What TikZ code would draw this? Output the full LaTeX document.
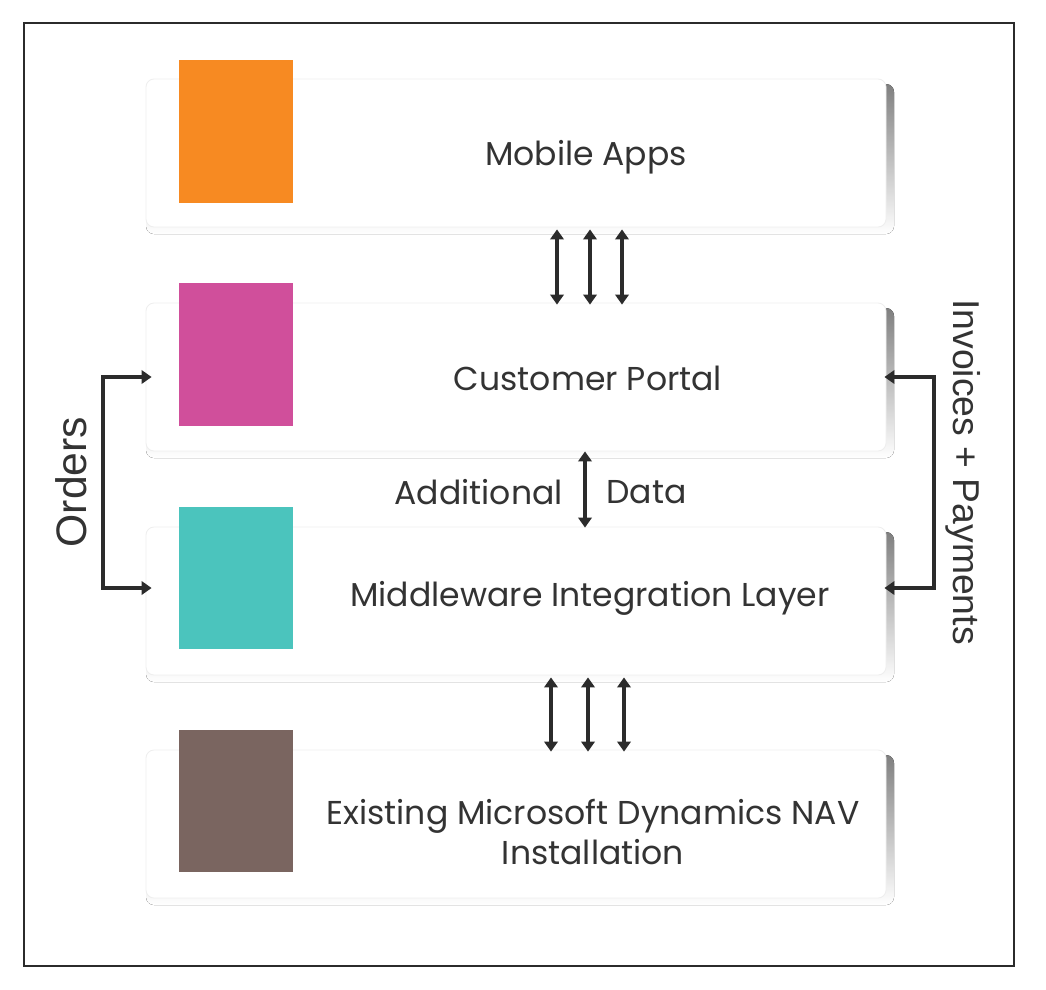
\documentclass[tikz,border=0pt]{standalone}
\usepackage{fontspec}
\setmainfont{Poppins}
\newfontfamily\arialf{Liberation Sans}
\usetikzlibrary{arrows.meta,calc}
\definecolor{ink}{HTML}{2B2B2B}
\definecolor{txt}{HTML}{333333}
\definecolor{cOrange}{HTML}{F78A22}
\definecolor{cPink}{HTML}{D04F9B}
\definecolor{cTeal}{HTML}{4BC4BD}
\definecolor{cBrown}{HTML}{7A6560}
\definecolor{shade}{HTML}{BDBDBD}
\definecolor{edge}{HTML}{EEEEEE}
\tikzset{
  boxnode/.style={rectangle, rounded corners=6pt, fill=white, draw=edge, line width=0.6pt,
    minimum width=555pt, minimum height=111pt, inner sep=0pt},
  sq/.style={rectangle, minimum width=85.5pt, minimum height=107pt, inner sep=0pt},
  lbl/.style={font=\fontsize{24.8}{30}\selectfont, text=txt, align=center, inner sep=0pt},
  side/.style={font=\arialf\fontsize{28}{32}\selectfont, text=txt, inner sep=0pt},
  arr/.style={draw=ink, line width=2.4pt, {Triangle[width=10pt,length=7.5pt]}-{Triangle[width=10pt,length=7.5pt]}},
}
\begin{document}
\begin{tikzpicture}[x=0.75pt,y=-0.75pt]
\useasboundingbox (0,0) rectangle (1046,989);
\fill[white] (0,0) rectangle (1046,989);
\draw[ink, line width=1.6pt] (24,23) rectangle (1014,966);

% boxes
\foreach \n/\t in {b1/79, b2/303, b3/527, b4/750}{
  \fill[shade, rounded corners=6pt] (146,\t+5) rectangle (894,\t+155);
  \node[boxnode] (\n) at (516,\t+74) {};
}
\node[sq, fill=cOrange] (s1) at (236,131.5) {};
\node[sq, fill=cPink]   (s2) at (236,354.5) {};
\node[sq, fill=cTeal]   (s3) at (236,578) {};
\node[sq, fill=cBrown]  (s4) at (236,801) {};

\node[lbl] (t1) at (586,157) {Mobile Apps};
\node[lbl] (t2) at (588,378) {Customer Portal};
\node[lbl] (t3) at (590,598) {Middleware Integration Layer};
\node[lbl] (t4) at (593,832) {Existing Microsoft Dynamics NAV\\Installation};

% vertical arrows
\foreach \dx in {41,74,106}{
  \draw[arr] ($(b1.south)+(\dx,2)$) -- ($(b2.north)+(\dx,2)$);
}
\foreach \dx in {35,72,108}{
  \draw[arr] ($(b3.south)+(\dx,2)$) -- ($(b4.north)+(\dx,2)$);
}
\draw[arr] ($(b2.south)+(69,0)$) -- ($(b3.north)+(69,1)$);
\node[lbl, anchor=east] (add) at (563,492) {Additional};
\node[lbl, anchor=west] (dat) at (606,492) {Data};

% side brackets
\coordinate (oL) at (103,480);
\coordinate (oR) at (934,480);
\coordinate (pL2) at ($(b2.west)+(6,0)$);
\coordinate (pL3) at ($(b3.west)+(6,-13)$);
\coordinate (pR2) at ($(b2.east)+(-2,0)$);
\coordinate (pR3) at ($(b3.east)+(-2,-13)$);
\draw[arr] (pL2) -- (pL2 -| oL) -- (pL3 -| oL) -- (pL3);
\draw[arr] (pR2) -- (pR2 -| oR) -- (pR3 -| oR) -- (pR3);
\node[side, rotate=90, font=\arialf\fontsize{32}{36}\selectfont] (ord) at (71,482) {Orders};
\node[side, rotate=-90] (inv) at (963,472) {Invoices + Payments};
\end{tikzpicture}
\end{document}
